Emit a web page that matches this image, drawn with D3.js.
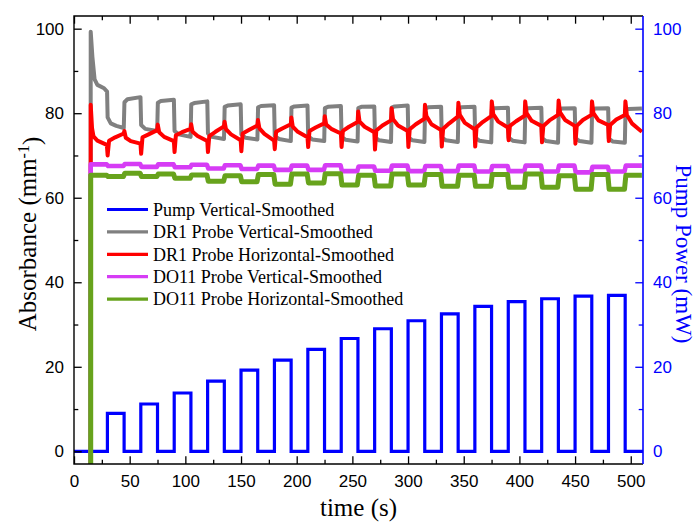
<!DOCTYPE html>
<html>
<head>
<meta charset="utf-8">
<script src="https://cdn.jsdelivr.net/npm/d3@7"></script>
<style>
  html, body { margin: 0; padding: 0; background: #ffffff; }
  svg { display: block; }
</style>
</head>
<body>
<svg id="chart" width="698" height="522"></svg>
<script>
// ---- axis ticks ----
const timeMajorTicks = [0, 50, 100, 150, 200, 250, 300, 350, 400, 450, 500];
const timeMinorTicks = [25, 75, 125, 175, 225, 275, 325, 375, 425, 475];
const valueMajorTicks = [0, 20, 40, 60, 80, 100];
const valueMinorTicks = [10, 30, 50, 70, 90];

// ---- pump schedule (s) and power (mW) ----
const recordEnd = 511;
const pumpOnTimes  = [30, 60, 90, 120, 150, 180, 210, 240, 270, 300, 330, 360, 390, 420, 450, 480];
const pumpOffTimes = [45, 75, 105, 135, 165, 195, 225, 255, 285, 315, 345, 375, 405, 435, 465, 495];
const pumpLevels   = [9.0, 11.2, 13.8, 16.6, 19.2, 21.6, 24.1, 26.7, 29.0, 30.9, 32.5, 34.3, 35.4, 36.1, 36.7, 36.9];

// ---- DR1 probe, vertical (time s, absorbance mm^-1) ----
const dr1Vertical = [
  [15,-10],[15,99.3],[16.5,93.4],[18.5,88],[21,86.7],[27,85.9],[29.7,85.1],
  [30.2,79],[33,77.6],[38,77],[44.7,76.5],
  [45.3,82.6],[48,83.3],[59.7,83.8],
  [60.3,77.2],[64,76.3],[74.7,75.8],
  [75.3,82.5],[78,82.9],[89.7,83.2],
  [90.3,75.8],[94,75],[104.7,74.4],
  [105.3,82.1],[108,82.4],[119.7,82.8],
  [120.3,75.2],[124,74.4],[134.7,73.9],
  [135.3,81.5],[138,81.8],[149.7,82.1],
  [150.3,75],[154,74.2],[164.7,73.8],
  [165.3,81.4],[168,81.7],[179.7,81.9],
  [180.3,74.6],[184,73.9],[194.7,73.4],
  [195.3,81.3],[198,81.6],[209.7,81.8],
  [210.3,74.5],[214,73.8],[224.7,73.4],
  [225.3,81.2],[228,81.5],[239.7,81.7],
  [240.3,74.4],[244,73.7],[254.7,73.3],
  [255.3,81.2],[258,81.5],[269.7,81.6],
  [270.3,74.3],[274,73.6],[284.7,73.2],
  [285.3,81.3],[288,81.6],[299.7,81.8],
  [300.3,74.3],[304,73.6],[314.7,73.2],
  [315.3,81.1],[318,81.4],[329.7,81.5],
  [330.3,74.2],[334,73.6],[344.7,73.2],
  [345.3,81.1],[348,81.4],[359.7,81.5],
  [360.3,74.2],[364,73.5],[374.7,73.1],
  [375.3,80.9],[378,81.2],[389.7,81.3],
  [390.3,74.2],[394,73.5],[404.7,73.1],
  [405.3,80.9],[408,81.2],[419.7,81.3],
  [420.3,74.1],[424,73.4],[434.7,73],
  [435.3,80.8],[438,81.1],[449.7,81.2],
  [450.3,74.1],[454,73.4],[464.7,73],
  [465.3,80.8],[468,81.1],[479.7,81.2],
  [480.3,74],[484,73.3],[494.7,73],
  [495.3,80.7],[498,81],[510,81.1]
];

// ---- DR1 probe, horizontal ----
const dr1Horizontal = [
  [15,-10],[15,82],[16.2,76.5],[17.5,74.5],[21,73.5],[29.5,72.5],
  [30.2,70],[31.5,73.5],[37,74.3],[44.7,75.2],
  [45.2,75.8],[46.5,74.2],[51,73.4],[59.7,72.8],
  [60.3,70.4],[61.5,74.3],[67,75],[74.7,76],
  [75.2,77.3],[76.5,75.5],[81,74.4],[89.7,73.4],
  [90.3,70.8],[91.5,74.8],[97,75.5],[104.7,76.3],
  [105.2,77.4],[106.5,75.6],[111,74.6],[119.7,73.4],
  [120.3,70.8],[121.5,74.6],[127,75.6],[134.7,76.9],
  [135.2,78],[136.5,76.2],[141,75],[149.7,73.6],
  [150.3,71],[151.5,75.2],[157,76],[164.7,77.1],
  [165.2,78.4],[166.5,76.4],[171,75.1],[179.7,73.5],
  [180.3,71.5],[181.5,75.6],[187,76.4],[194.7,77.4],
  [195.2,79],[196.5,76.8],[201,75.6],[209.7,74.3],
  [210.3,72],[211.5,75.8],[217,76.6],[224.7,77.6],
  [225.2,79.3],[226.5,77.3],[231,76.3],[239.7,75.2],
  [240.3,72],[241.5,75.8],[247,76.8],[254.7,77.9],
  [255.2,80.4],[256.5,78],[261,76.8],[269.7,75.5],
  [270.3,71.4],[271.5,75.9],[277,77.1],[284.7,78.3],
  [285.2,81.2],[286.5,78.6],[291,77.1],[299.7,75.8],
  [300.3,72],[301.5,76.2],[307,77.4],[314.7,78.7],
  [315.2,82],[316.5,79.3],[321,77.4],[329.7,76],
  [330.3,72.1],[331.5,76.3],[337,77.6],[344.7,79.2],
  [345.2,82.5],[346.5,79.6],[351,77.7],[359.7,76.2],
  [360.3,72.1],[361.5,76.6],[367,77.9],[374.7,79.3],
  [375.2,82.8],[376.5,79.8],[381,78],[389.7,76.6],
  [390.3,73.6],[391.5,77],[397,78.1],[404.7,79.4],
  [405.2,82.8],[406.5,80],[411,78.2],[419.7,77],
  [420.3,73.1],[421.5,77],[427,78.3],[434.7,79.6],
  [435.2,83],[436.5,80.2],[441,78.4],[449.7,77],
  [450.3,72.8],[451.5,77],[457,78.4],[464.7,79.6],
  [465.2,82.8],[466.5,80],[471,78.3],[479.7,77.2],
  [480.3,73.4],[481.5,77.2],[487,78.5],[494.7,79.6],
  [495.2,82.8],[496.5,79.6],[501,77.6],[510,75.6]
];

// ---- DO11 probes: level held over each pump-on / pump-off interval ----
const segmentEdges = [15, 30, 45, 60, 75, 90, 105, 120, 135, 150, 165, 180, 195, 210, 225, 240, 255,
                      270, 285, 300, 315, 330, 345, 360, 375, 390, 405, 420, 435, 450, 465, 480, 495, 510];
const do11VerticalLevels = [67.9,
  67.5, 68.0, 67.3, 67.9, 67.2, 67.8, 66.9, 67.7, 66.8, 67.6, 66.6, 67.6, 66.6, 67.7, 66.3, 67.4,
  66.4, 67.6, 66.3, 67.5, 66.3, 67.6, 66.2, 67.5, 66.3, 67.6, 66.2, 67.6, 66.0, 67.3, 66.2, 67.6];
const do11HorizontalLevels = [65.3,
  65.0, 65.8, 65.0, 65.6, 64.6, 65.4, 63.9, 65.2, 63.8, 65.5, 63.2, 65.6, 63.5, 65.7, 63.0, 65.3,
  62.8, 65.6, 63.0, 65.5, 62.7, 65.3, 62.7, 65.5, 62.5, 65.6, 62.5, 65.2, 62.0, 65.5, 62.0, 65.3];

// ---- legend ----
const legendLabels = [
  "Pump Vertical-Smoothed",
  "DR1 Probe Vertical-Smoothed",
  "DR1 Probe Horizontal-Smoothed",
  "DO11 Probe Vertical-Smoothed",
  "DO11 Probe Horizontal-Smoothed"
];
const seriesColors = ["#0000ff", "#808080", "#ff0000", "#d63cf5", "#67a31c"];
const seriesWidths = [3.2, 4, 4, 4.6, 5];

// ---------------------------------------------------------------
const margin = { left: 74, right: 55, top: 16, bottom: 58 };
const W = 698, H = 522;
const plotW = W - margin.left - margin.right;
const plotH = H - margin.top - margin.bottom;

const svg = d3.select("#chart");
const g = svg.append("g").attr("transform", `translate(${margin.left},${margin.top})`);

const x = d3.scaleLinear().domain([0, 511]).range([0, plotW]);
const yLeft = d3.scaleLinear().domain([-3, 103]).range([plotH, 0]);
const yRight = d3.scaleLinear().domain([-3, 103]).range([plotH, 0]);

svg.append("defs").append("clipPath").attr("id", "plotClip")
  .append("rect").attr("width", plotW).attr("height", plotH);

// pump trace as a square wave
const pumpPoints = [[0, 0]];
pumpOnTimes.forEach((t, i) => {
  pumpPoints.push([t, 0], [t, pumpLevels[i]], [pumpOffTimes[i], pumpLevels[i]], [pumpOffTimes[i], 0]);
});
pumpPoints.push([recordEnd, 0]);

function levelsToPoints(levels) {
  const pts = [[segmentEdges[0], -10]];
  levels.forEach((v, i) => {
    const a = segmentEdges[i], b = segmentEdges[i + 1];
    pts.push([i === 0 ? a : a + 0.6, v], [i === levels.length - 1 ? b : b - 0.6, v]);
  });
  return pts;
}

const lineL = d3.line().x(d => x(d[0])).y(d => yLeft(d[1]));
const lineR = d3.line().x(d => x(d[0])).y(d => yRight(d[1]));

const plot = g.append("g").attr("clip-path", "url(#plotClip)");

plot.append("path").datum(pumpPoints).attr("d", lineR)
  .attr("fill", "none").attr("stroke", seriesColors[0]).attr("stroke-width", seriesWidths[0])
  .attr("stroke-linejoin", "miter");

const absorbanceSeries = [
  dr1Vertical,
  dr1Horizontal,
  levelsToPoints(do11VerticalLevels),
  levelsToPoints(do11HorizontalLevels)
];
absorbanceSeries.forEach((pts, i) => {
  plot.append("path").datum(pts).attr("d", lineL)
    .attr("fill", "none").attr("stroke", seriesColors[i + 1]).attr("stroke-width", seriesWidths[i + 1])
    .attr("stroke-linejoin", "round");
});

// ---- axes (ticks pointing inward) ----
const tickFont = "Liberation Sans, Arial, sans-serif";
function styleAxis(sel, color) {
  sel.select(".domain").remove();
  sel.selectAll("line").attr("stroke", color).attr("stroke-width", 1.3);
  sel.selectAll("text").attr("fill", color).style("font-family", tickFont).style("font-size", "17px");
}

g.append("g").attr("transform", `translate(0,${plotH})`)
  .call(d3.axisBottom(x).tickValues(timeMajorTicks).tickSize(-7.7).tickPadding(11).tickFormat(d3.format("d")))
  .call(s => styleAxis(s, "#000"));
g.append("g").attr("transform", `translate(0,${plotH})`)
  .call(d3.axisBottom(x).tickValues(timeMinorTicks).tickSize(-4.3).tickFormat(""))
  .call(s => styleAxis(s, "#000"));
g.append("g")
  .call(d3.axisTop(x).tickValues(timeMajorTicks).tickSize(-7.7).tickFormat(""))
  .call(s => styleAxis(s, "#000"));
g.append("g")
  .call(d3.axisTop(x).tickValues(timeMinorTicks).tickSize(-4.3).tickFormat(""))
  .call(s => styleAxis(s, "#000"));

g.append("g")
  .call(d3.axisLeft(yLeft).tickValues(valueMajorTicks).tickSize(-7.7).tickPadding(10).tickFormat(d3.format("d")))
  .call(s => styleAxis(s, "#000"));
g.append("g")
  .call(d3.axisLeft(yLeft).tickValues(valueMinorTicks).tickSize(-4.3).tickFormat(""))
  .call(s => styleAxis(s, "#000"));

g.append("g").attr("transform", `translate(${plotW},0)`)
  .call(d3.axisRight(yRight).tickValues(valueMajorTicks).tickSize(-7.7).tickPadding(10).tickFormat(d3.format("d")))
  .call(s => styleAxis(s, "#0000ff"));
g.append("g").attr("transform", `translate(${plotW},0)`)
  .call(d3.axisRight(yRight).tickValues(valueMinorTicks).tickSize(-4.3).tickFormat(""))
  .call(s => styleAxis(s, "#0000ff"));

// frame
g.append("path").attr("d", `M${plotW},0H0V${plotH}H${plotW}`)
  .attr("fill", "none").attr("stroke", "#000").attr("stroke-width", 1.4);
g.append("line").attr("x1", plotW).attr("x2", plotW).attr("y1", 0).attr("y2", plotH)
  .attr("stroke", "#0000ff").attr("stroke-width", 1.6);

// ---- axis titles ----
const titleFont = "Liberation Serif, Times New Roman, serif";
svg.append("text")
  .attr("x", margin.left + plotW / 2).attr("y", 516)
  .attr("text-anchor", "middle")
  .style("font-family", titleFont).style("font-size", "25px")
  .text("time (s)");

const leftTitle = svg.append("text")
  .attr("transform", "translate(36,234) rotate(-90)")
  .attr("text-anchor", "middle")
  .style("font-family", titleFont).style("font-size", "25px");
leftTitle.append("tspan").text("Absorbance (mm");
leftTitle.append("tspan").attr("dy", "-0.45em").style("font-size", "16px").text("-1");
leftTitle.append("tspan").attr("dy", "0.45em").text(")");

svg.append("text")
  .attr("transform", "translate(676,254) rotate(90)")
  .attr("text-anchor", "middle")
  .attr("fill", "#0000ff")
  .style("font-family", titleFont).style("font-size", "23px")
  .text("Pump Power (mW)");

// ---- legend ----
const legend = svg.append("g");
legendLabels.forEach((label, i) => {
  const yy = 209.5 + i * 22.4;
  legend.append("line").attr("x1", 107).attr("x2", 148).attr("y1", yy).attr("y2", yy)
    .attr("stroke", seriesColors[i]).attr("stroke-width", 3.2);
  legend.append("text").attr("x", 153).attr("y", yy).attr("dy", "0.35em")
    .style("font-family", titleFont).style("font-size", "18px")
    .attr("fill", "#000")
    .text(label);
});
</script>
</body>
</html>
